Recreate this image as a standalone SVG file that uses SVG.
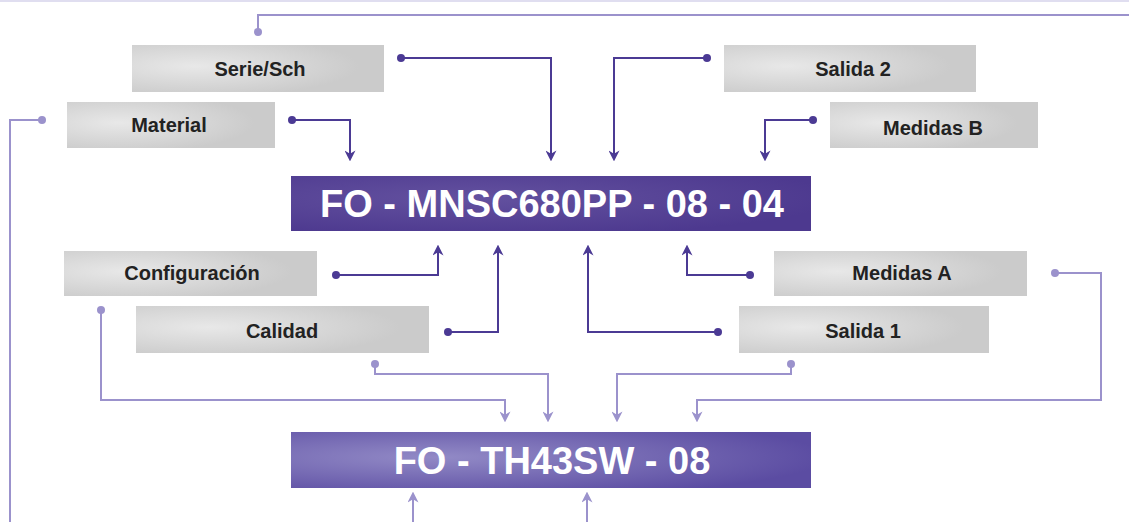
<svg xmlns="http://www.w3.org/2000/svg" width="1129" height="522" viewBox="0 0 1129 522">
<style>
.box{fill:url(#gray)}
.lbl{font-family:"Liberation Sans",Arial,sans-serif;font-weight:bold;font-size:20px;fill:#222;text-anchor:middle}
.ttl{font-family:"Liberation Sans",Arial,sans-serif;font-weight:bold;font-size:38px;fill:#fff;text-anchor:middle}
.dk{fill:none;stroke:#4b3a94;stroke-width:2}
.lt{fill:none;stroke:#9b92cc;stroke-width:2}
.dkd{fill:#4b3a94}
.ltd{fill:#9b92cc}
</style>
<defs>
<radialGradient id="gray" cx="0.25" cy="0.45" r="0.65">
<stop offset="0" stop-color="#e8e8e8"/>
<stop offset="1" stop-color="#cbcbcb"/>
</radialGradient>
<radialGradient id="bar1" cx="0.35" cy="0.4" r="0.7">
<stop offset="0" stop-color="#63519f"/>
<stop offset="1" stop-color="#4d398f"/>
</radialGradient>
<radialGradient id="bar2" cx="0.28" cy="0.45" r="0.75">
<stop offset="0" stop-color="#928ac6"/>
<stop offset="1" stop-color="#5b4ca2"/>
</radialGradient>
<marker id="ad" viewBox="0 0 10 10" refX="6" refY="5" markerWidth="11" markerHeight="11" markerUnits="userSpaceOnUse" orient="auto">
<path d="M0,0 L10,5 L0,10 L3,5 Z" fill="#4b3a94"/>
</marker>
<marker id="al" viewBox="0 0 10 10" refX="6" refY="5" markerWidth="11" markerHeight="11" markerUnits="userSpaceOnUse" orient="auto">
<path d="M0,0 L10,5 L0,10 L3,5 Z" fill="#9b92cc"/>
</marker>
</defs>
<line x1="0" y1="1" x2="1129" y2="1" stroke="#e0def0" stroke-width="2"/>

<g id="connectors">
<path class="lt" d="M258,32 V15 H1129"/>
<path class="lt" d="M42,120 H10 V522"/>
<path class="dk" marker-end="url(#ad)" d="M292,120 H350 V157"/>
<path class="dk" marker-end="url(#ad)" d="M401,58 H551 V157"/>
<path class="dk" marker-end="url(#ad)" d="M707,58 H614 V157"/>
<path class="dk" marker-end="url(#ad)" d="M813,120 H765 V157"/>
<path class="dk" marker-end="url(#ad)" d="M336,275 H438 V249"/>
<path class="dk" marker-end="url(#ad)" d="M448,332 H498 V249"/>
<path class="dk" marker-end="url(#ad)" d="M750,275 H687 V249"/>
<path class="dk" marker-end="url(#ad)" d="M718,332 H588 V249"/>
<path class="lt" marker-end="url(#al)" d="M101,310 V400 H505 V418"/>
<path class="lt" marker-end="url(#al)" d="M375,364 V374 H548 V418"/>
<path class="lt" marker-end="url(#al)" d="M791,364 V374 H617 V418"/>
<path class="lt" marker-end="url(#al)" d="M1055,273 H1101 V400 H697 V418"/>
<path class="lt" marker-end="url(#al)" d="M413,522 V496"/>
<path class="lt" marker-end="url(#al)" d="M587,522 V496"/>
<circle class="ltd" cx="258" cy="32" r="4"/>
<circle class="ltd" cx="42" cy="120" r="4"/>
<circle class="dkd" cx="292" cy="120" r="4"/>
<circle class="dkd" cx="401" cy="58" r="4"/>
<circle class="dkd" cx="707" cy="58" r="4"/>
<circle class="dkd" cx="813" cy="120" r="4"/>
<circle class="dkd" cx="336" cy="275" r="4"/>
<circle class="dkd" cx="448" cy="332" r="4"/>
<circle class="dkd" cx="750" cy="275" r="4"/>
<circle class="dkd" cx="718" cy="332" r="4"/>
<circle class="ltd" cx="101" cy="310" r="4"/>
<circle class="ltd" cx="375" cy="364" r="4"/>
<circle class="ltd" cx="791" cy="364" r="4"/>
<circle class="ltd" cx="1055" cy="273" r="4"/>
</g>

<g id="serie"><rect class="box" x="132" y="45" width="252" height="47"/><text class="lbl" x="260" y="76">Serie/Sch</text></g>
<g id="material"><rect class="box" x="67" y="102" width="208" height="46"/><text class="lbl" x="169" y="132">Material</text></g>
<g id="salida2"><rect class="box" x="724" y="45" width="252" height="47"/><text class="lbl" x="853" y="76">Salida 2</text></g>
<g id="medidasB"><rect class="box" x="830" y="102" width="208" height="46"/><text class="lbl" x="933" y="135">Medidas B</text></g>
<g id="code1"><rect x="291" y="176" width="520" height="55" fill="url(#bar1)"/><text class="ttl" x="552" y="217">FO - MNSC680PP - 08 - 04</text></g>
<g id="configuracion"><rect class="box" x="64" y="251" width="253" height="45"/><text class="lbl" x="192" y="280">Configuración</text></g>
<g id="calidad"><rect class="box" x="136" y="306" width="293" height="47"/><text class="lbl" x="282" y="338">Calidad</text></g>
<g id="medidasA"><rect class="box" x="774" y="251" width="253" height="45"/><text class="lbl" x="902" y="280">Medidas A</text></g>
<g id="salida1"><rect class="box" x="739" y="306" width="250" height="47"/><text class="lbl" x="863" y="338">Salida 1</text></g>
<g id="code2"><rect x="291" y="432" width="520" height="56" fill="url(#bar2)"/><text class="ttl" x="552" y="474">FO - TH43SW - 08</text></g>
</svg>
